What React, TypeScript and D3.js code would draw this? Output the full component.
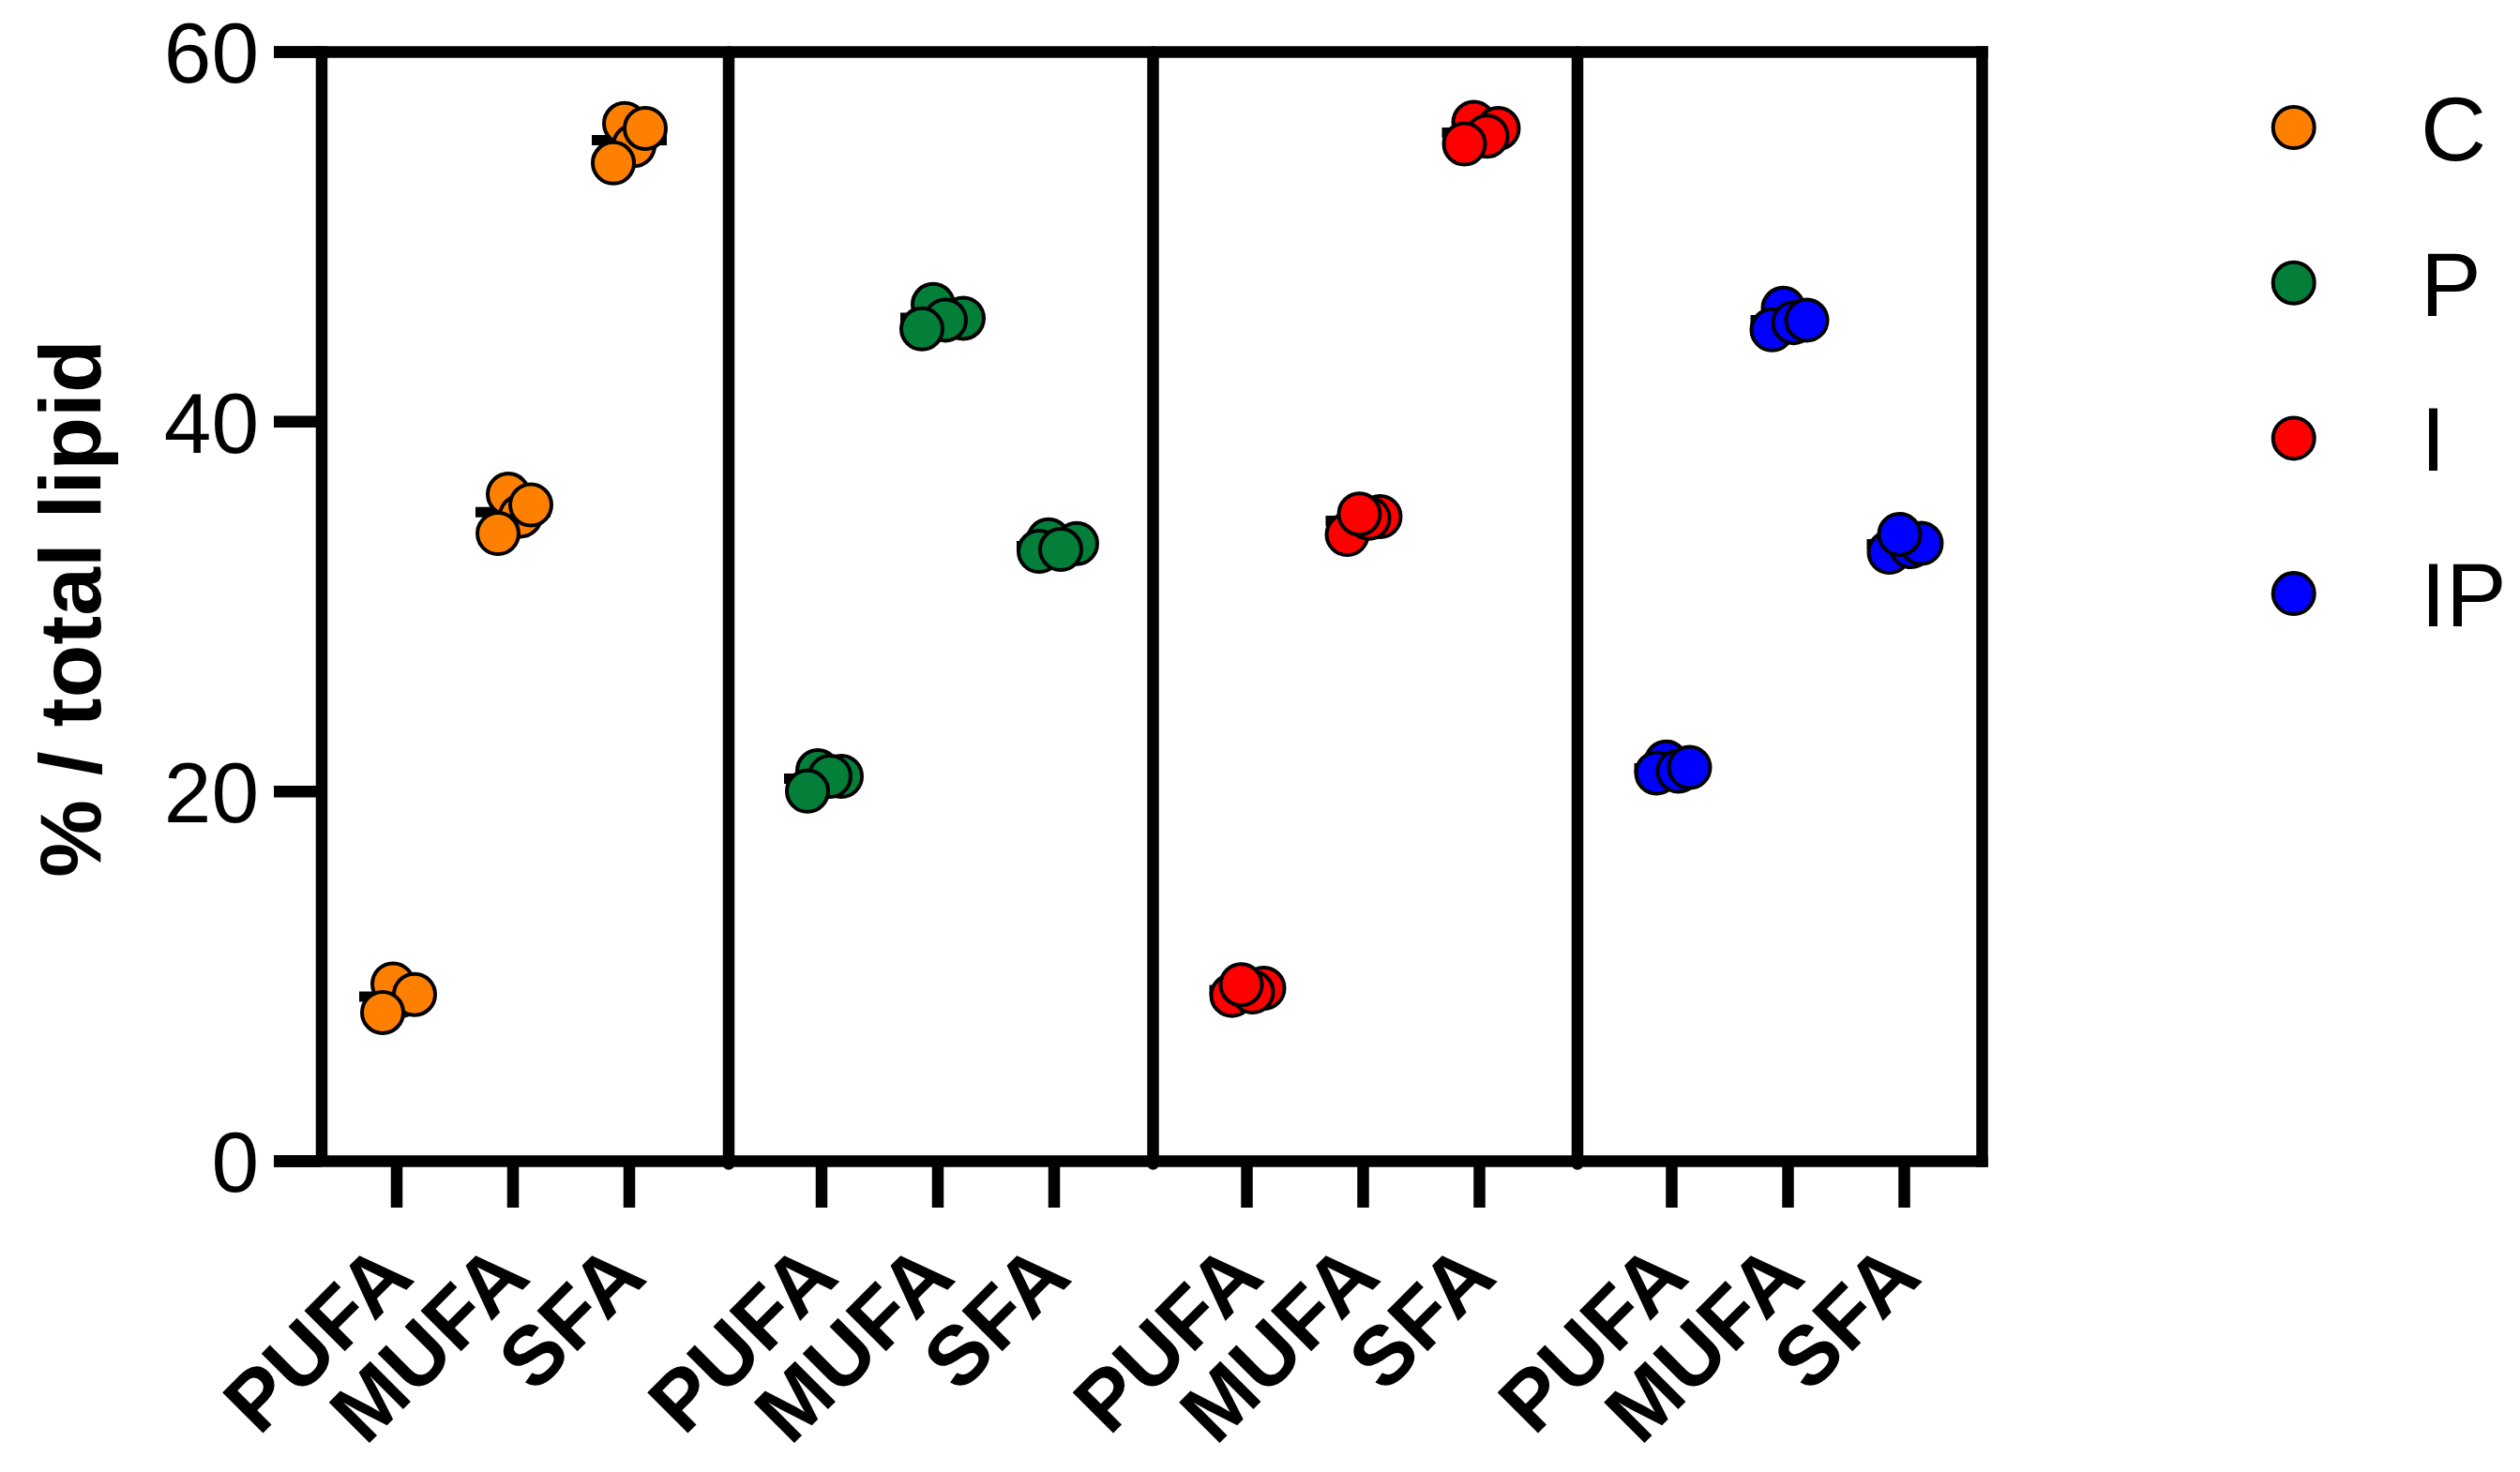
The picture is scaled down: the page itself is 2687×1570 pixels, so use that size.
import React from 'react';
import * as d3 from 'd3';

// ---------- data ----------
const GROUPS = ['C', 'P', 'I', 'IP'];
const CATEGORIES = ['PUFA', 'MUFA', 'SFA'];
const GROUP_COLORS = ['#FF8000', '#037F3A', '#FF0000', '#0000FF'];
const Y_TICKS = [0, 20, 40, 60];
const Y_LABEL = '% / total lipid';

// values per group: [PUFA[], MUFA[], SFA[]] (4 replicates each)
const C_VALUES = [
  [8.95, 9.59, 9.02, 8.04],
  [36.08, 34.9, 35.5, 33.95],
  [56.13, 54.94, 55.87, 54.0],
];
const P_VALUES = [
  [21.12, 20.82, 20.82, 20.02],
  [46.34, 45.6, 45.5, 45.02],
  [33.62, 33.41, 32.99, 33.09],
];
const I_VALUES = [
  [8.97, 9.36, 9.15, 9.55],
  [33.9, 34.87, 34.78, 35.01],
  [56.2, 55.87, 55.45, 55.03],
];
const IP_VALUES = [
  [21.59, 21.0, 21.1, 21.3],
  [46.14, 44.97, 45.36, 45.5],
  [32.94, 33.24, 33.42, 33.91],
];

// horizontal scatter of the replicate dots (px from category centre)
const C_JITTER = [[4, -4, 19, -15], [-5, 8, 19, -16], [-5, 5, 17, -17]];
const P_JITTER = [[-4, 21, 9, -15], [-5, 27, 8, -17], [-6, 24, -16, 7]];
const I_JITTER = [[-16, 18, 6, -6], [-17, 18, 6, -4], [-6, 20, 8, -16]];
const IP_JITTER = [[-6, -16, 7, 19], [-5, -17, 6, 20], [-16, 7, 18, -5]];

const ALL_VALUES = [C_VALUES, P_VALUES, I_VALUES, IP_VALUES];
const ALL_JITTER = [C_JITTER, P_JITTER, I_JITTER, IP_JITTER];

// ---------- layout ----------
const W = 2687;
const H = 1570;
const PANEL_EDGES = [343, 777, 1229.5, 1682, 2113.5];
const FIRST_TICK = [423, 876, 1329.5, 1782.5];
const TICK_STEP = 124;
const Y_TOP = 55.5;
const Y_BOTTOM = 1238.5;
const AXIS_W = 12.5;
const FONT = '"Liberation Sans", Arial, Helvetica, sans-serif';
const R = 22;

export default function App() {
  const y = d3.scaleLinear().domain([0, 60]).range([Y_BOTTOM, Y_TOP]);
  const xScales = GROUPS.map((_, i) =>
    d3.scalePoint<string>().domain(CATEGORIES).range([FIRST_TICK[i], FIRST_TICK[i] + TICK_STEP * 2]).padding(0)
  );
  const leftX = PANEL_EDGES[0];
  const rightX = PANEL_EDGES[PANEL_EDGES.length - 1];
  const tickLeft = 292;

  return (
    <svg
      width={W}
      height={H}
      viewBox={`0 0 ${W} ${H}`}
      style={{ position: 'absolute', left: 0, top: 0, background: '#fff' }}
      fontFamily={FONT}
    >
      <rect x={0} y={0} width={W} height={H} fill="#fff" />

      {/* y ticks and labels */}
      {Y_TICKS.map((t) => (
        <g key={t}>
          <line x1={tickLeft} x2={leftX} y1={y(t)} y2={y(t)} stroke="#000" strokeWidth={AXIS_W} />
          <text x={276} y={y(t)} dy="0.36em" textAnchor="end" fontSize={91} fill="#000">
            {t}
          </text>
        </g>
      ))}

      {/* frame: top & bottom lines */}
      <line x1={tickLeft} x2={rightX + AXIS_W / 2} y1={Y_TOP} y2={Y_TOP} stroke="#000" strokeWidth={AXIS_W} />
      <line x1={tickLeft} x2={rightX + AXIS_W / 2} y1={Y_BOTTOM} y2={Y_BOTTOM} stroke="#000" strokeWidth={AXIS_W} />
      {/* left & right axis */}
      <line x1={leftX} x2={leftX} y1={Y_TOP - AXIS_W / 2} y2={Y_BOTTOM} stroke="#000" strokeWidth={AXIS_W} />
      <line x1={rightX} x2={rightX} y1={Y_TOP - AXIS_W / 2} y2={Y_BOTTOM + AXIS_W / 2} stroke="#000" strokeWidth={AXIS_W} />
      {/* dividers */}
      {PANEL_EDGES.slice(1, -1).map((px) => (
        <line key={px} x1={px} x2={px} y1={Y_TOP} y2={Y_BOTTOM + 3} stroke="#000" strokeWidth={AXIS_W} strokeLinecap="round" />
      ))}

      {/* x ticks and labels */}
      {xScales.map((xs, gi) =>
        CATEGORIES.map((c) => {
          const cx = xs(c) as number;
          return (
            <g key={`${gi}-${c}`}>
              <line x1={cx} x2={cx} y1={Y_BOTTOM} y2={1288} stroke="#000" strokeWidth={AXIS_W} />
              <text
                transform={`translate(${cx + 21},1365) rotate(-45)`}
                textAnchor="end"
                fontSize={89}
                fontWeight="bold"
                fill="#000"
              >
                {c}
              </text>
            </g>
          );
        })
      )}

      {/* mean lines and points */}
      {ALL_VALUES.map((groupVals, gi) =>
        groupVals.map((vals, ci) => {
          const cx = xScales[gi](CATEGORIES[ci]) as number;
          const m = d3.mean(vals) as number;
          return (
            <g key={`pts-${gi}-${ci}`}>
              <line x1={cx - 40} x2={cx + 40} y1={y(m)} y2={y(m)} stroke="#000" strokeWidth={11} />
              {vals.map((v, k) => (
                <circle
                  key={k}
                  cx={cx + ALL_JITTER[gi][ci][k]}
                  cy={y(v)}
                  r={R}
                  fill={GROUP_COLORS[gi]}
                  stroke="#000"
                  strokeWidth={4}
                />
              ))}
            </g>
          );
        })
      )}

      {/* y axis title */}
      <text
        transform={`translate(107,649) rotate(-90)`}
        textAnchor="middle"
        fontSize={93}
        fontWeight="bold"
        fill="#000"
      >
        {Y_LABEL}
      </text>

      {/* legend */}
      {GROUPS.map((g, i) => {
        const ly = 136 + i * 165.7;
        return (
          <g key={g}>
            <circle cx={2445.7} cy={ly} r={R} fill={GROUP_COLORS[i]} stroke="#000" strokeWidth={4} />
            <text x={2581} y={ly} dy="0.36em" fontSize={97} fill="#000">
              {g}
            </text>
          </g>
        );
      })}
    </svg>
  );
}
